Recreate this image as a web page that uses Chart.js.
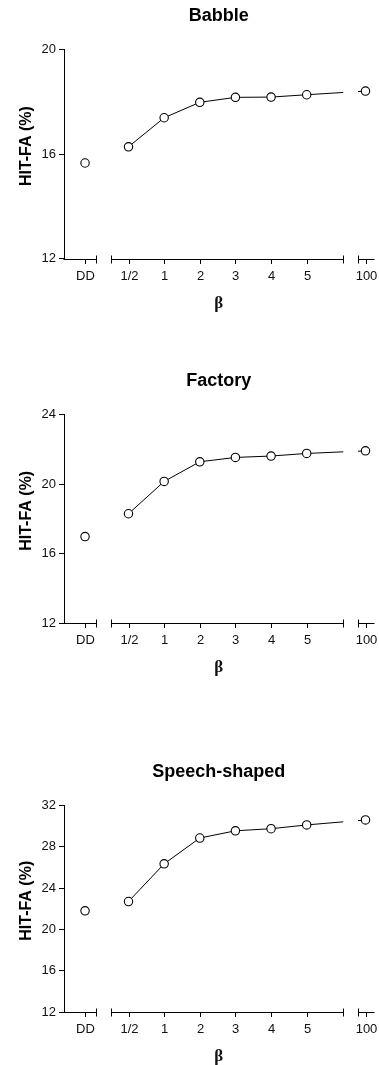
<!DOCTYPE html>
<html><head><meta charset="utf-8">
<script src="https://cdn.jsdelivr.net/npm/chart.js@4"></script>
<style>
html,body{margin:0;padding:0;background:#fff;}
body{width:379px;height:1065px;position:relative;overflow:hidden;}
canvas{position:absolute;left:0;}
</style></head><body>
<canvas id="c1" width="379" height="312" style="top:0px"></canvas>
<canvas id="c2" width="379" height="312" style="top:365.2px"></canvas>
<canvas id="c3" width="379" height="310" style="top:755.5px"></canvas>
<script>
// ---- data ----
const categories = ['DD', '1/2', '1', '2', '3', '4', '5', '100'];
const babble  = [15.66, 16.28, 17.39, 17.98, 18.17, 18.18, 18.27, 18.41];
const factory = [16.98, 18.29, 20.15, 21.28, 21.53, 21.61, 21.76, 21.91];
const speech  = [21.80, 22.70, 26.35, 28.85, 29.55, 29.75, 30.12, 30.60];
const panelTitles = ['Babble', 'Factory', 'Speech-shaped'];
const yMaxes = [20, 24, 32];
const yStep = 4;
const yMin = 12;
const xTitle = 'β';
const yTitle = 'HIT-FA (%)';
// position of each category on the (broken) beta axis
const betaPos = [0, 1.22, 2.22, 3.22, 4.22, 5.22, 6.22, 7.87];
// axis pieces of the broken x axis (in axis units)
const xSegments = [[-0.59, 0.3], [0.72, 7.245], [7.66, 8.1]];

const FONT = '"Liberation Sans", Arial, sans-serif';
const INK = '#111';

const brokenAxis = {
  id: 'brokenAxis',
  beforeDatasetDraw(chart) {
    const {ctx, chartArea} = chart;
    const xs = chart.scales.x;
    ctx.save();
    ctx.beginPath();
    xSegments.forEach((s, i) => {
      const a = i === 0 ? 0 : xs.getPixelForValue(s[0]);
      const b = i === xSegments.length - 1 ? chart.width : xs.getPixelForValue(s[1]);
      ctx.rect(a, 0, b - a, chart.height);
    });
    ctx.clip();
  },
  afterDatasetDraw(chart) {
    chart.ctx.restore();
  },
  afterDraw(chart, args, opts) {
    const {ctx, chartArea} = chart;
    const xs = chart.scales.x;
    const y0 = Math.round(chartArea.bottom) + 0.5;
    ctx.save();
    ctx.strokeStyle = '#000';
    ctx.lineWidth = 1;
    xSegments.forEach((s, i) => {
      const a = i === 0 ? chartArea.left - 0.5 : Math.round(xs.getPixelForValue(s[0])) + 0.5;
      const b = Math.round(xs.getPixelForValue(s[1])) + 0.5;
      ctx.beginPath();
      ctx.moveTo(a, y0); ctx.lineTo(b, y0);
      if (i > 0) { ctx.moveTo(a, y0 - 4); ctx.lineTo(a, y0 + 4); }
      if (i < xSegments.length - 1) { ctx.moveTo(b, y0 - 4); ctx.lineTo(b, y0 + 4); }
      ctx.stroke();
    });
    // category ticks + labels
    ctx.fillStyle = INK;
    ctx.font = '13px ' + FONT;
    ctx.textAlign = 'center';
    ctx.textBaseline = 'middle';
    categories.forEach((c, i) => {
      const px = Math.round(xs.getPixelForValue(betaPos[i])) + 0.5;
      ctx.beginPath();
      ctx.moveTo(px, y0); ctx.lineTo(px, y0 + 4.5);
      ctx.stroke();
      ctx.fillText(c, px, y0 + 16.5);
    });
    // x title
    ctx.font = 'bold 17px "Liberation Serif", "DejaVu Serif", serif';
    ctx.fillText(xTitle, (chartArea.left + chartArea.right) / 2, y0 + 44);
    // panel title
    ctx.fillStyle = '#000';
    ctx.font = 'bold 18px ' + FONT;
    ctx.fillText(opts.title, (chartArea.left + chartArea.right) / 2, chartArea.top - 33.5);
    // y title
    ctx.translate(27, (chartArea.top + chartArea.bottom) / 2 - 8);
    ctx.rotate(-Math.PI / 2);
    ctx.font = 'bold 16px ' + FONT;
    ctx.fillText(yTitle, 0, 0);
    ctx.restore();
  }
};

function makeChart(id, idx, values, padRight, plotH, canvasH) {
  const top = 49.5;
  new Chart(document.getElementById(id), {
    type: 'line',
    data: {
      datasets: [{
        data: values.map((v, i) => ({x: betaPos[i], y: v})),
        borderColor: '#000',
        borderWidth: 1,
        tension: 0,
        pointRadius: 4.2,
        pointBorderWidth: 1.1,
        pointBackgroundColor: '#fff',
        pointBorderColor: '#000',
        segment: {
          borderColor: c => c.p0DataIndex === 0 ? 'rgba(0,0,0,0)' : '#000'
        }
      }]
    },
    options: {
      responsive: false,
      animation: false,
      layout: {padding: {top: top, left: 0, right: padRight, bottom: canvasH - top - plotH}},
      plugins: {
        legend: {display: false},
        tooltip: {enabled: false},
        brokenAxis: {title: panelTitles[idx]}
      },
      scales: {
        x: {type: 'linear', display: false, min: xSegments[0][0], max: xSegments[2][1]},
        y: {
          min: yMin, max: yMaxes[idx],
          ticks: {stepSize: yStep, color: INK, padding: 3, font: {family: FONT, size: 13}},
          grid: {drawOnChartArea: false, drawTicks: true, tickLength: 5, color: '#000'},
          border: {display: true, color: '#000', width: 1},
          afterFit: s => { s.width = 64; }
        }
      }
    },
    plugins: [brokenAxis]
  });
}

makeChart('c1', 0, babble, 1.5, 209.2, 312);
makeChart('c2', 1, factory, 1.5, 208.6, 312);
makeChart('c3', 2, speech, 4.8, 206.5, 310);
</script>
</body></html>
